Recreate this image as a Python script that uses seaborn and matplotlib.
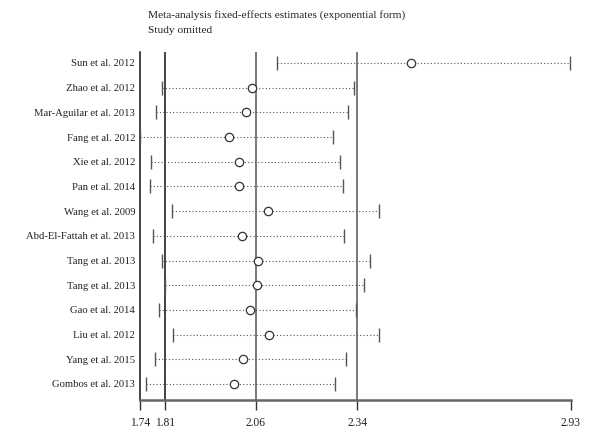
import pandas as pd
import matplotlib.pyplot as plt
import seaborn as sns

# studies omitted, estimate and CI
studies = ["Sun et al. 2012", "Zhao et al. 2012", "Mar-Aguilar et al. 2013", "Fang et al. 2012",
           "Xie et al. 2012", "Pan et al. 2014", "Wang et al. 2009", "Abd-El-Fattah et al. 2013",
           "Tang et al. 2013", "Tang et al. 2013", "Gao et al. 2014", "Liu et al. 2012",
           "Yang et al. 2015", "Gombos et al. 2013"]
estimate = [2.489, 2.049, 2.032, 1.987, 2.013, 2.014, 2.094, 2.022, 2.067, 2.063, 2.045, 2.096, 2.026, 2.000]
lower = [2.118, 1.800, 1.783, 1.740, 1.770, 1.768, 1.828, 1.775, 1.802, 1.808, 1.792, 1.832, 1.781, 1.757]
upper = [2.928, 2.331, 2.315, 2.272, 2.294, 2.300, 2.401, 2.303, 2.375, 2.359, 2.337, 2.401, 2.309, 2.280]

# overall estimate lines and axis ticks
overall = [1.81, 2.06, 2.34]
xticks = [1.74, 1.81, 2.06, 2.34, 2.93]

df = pd.DataFrame({"study": studies, "est": estimate, "lo": lower, "hi": upper})
df["row"] = range(len(df))

sns.set_theme(style="white")
plt.rcParams["font.family"] = ["Liberation Serif", "DejaVu Serif"]

fig = plt.figure(figsize=(6, 4.43), dpi=100)
ax = fig.add_axes([0.2333, 0.097, 0.7178, 0.786])

# dotted CI lines
ax.hlines(df["row"], df["lo"], df["hi"], colors="#555555", linestyles=(0, (1, 2)), linewidth=0.8, zorder=2)
# caps
sns.scatterplot(data=pd.concat([df[["lo", "row"]].rename(columns={"lo": "x"}),
                                df[["hi", "row"]].rename(columns={"hi": "x"})]),
                x="x", y="row", marker="|", s=100, color="#555555", linewidth=1.0, ax=ax, zorder=3)
# point estimates
sns.scatterplot(data=df, x="est", y="row", marker="o", s=36, facecolor="white",
                edgecolor="#333333", linewidth=0.9, ax=ax, zorder=4)

ax.axvline(overall[0], color="#111111", linewidth=1.1, zorder=1)
for v in overall[1:]:
    ax.axvline(v, color="#555555", linewidth=1.1, zorder=1)

ax.set_xlim(1.74, 2.93)
ax.set_ylim(len(df) - 1 + 0.65, -0.45)
ax.set_xticks(xticks)
ax.set_xticklabels([f"{t:.2f}" for t in xticks], fontsize=8.3)
ax.set_yticks(df["row"])
ax.set_yticklabels(df["study"], fontsize=7.7)
ax.set_xlabel("")
ax.set_ylabel("")

for s in ["top", "right"]:
    ax.spines[s].set_visible(False)
ax.spines["left"].set_color("#111111")
ax.spines["left"].set_linewidth(1.1)
ax.spines["bottom"].set_color("#666666")
ax.spines["bottom"].set_linewidth(1.8)
ax.tick_params(axis="x", which="both", bottom=True, length=7, width=1.0, color="#333333",
               direction="out", pad=5, labelcolor="#222222")
ax.tick_params(axis="y", left=False, length=0, pad=3.5, labelcolor="#222222")

fig.text(0.247, 0.966, "Meta-analysis fixed-effects estimates (exponential form)",
         fontsize=8.2, va="center", color="#222222")
fig.text(0.247, 0.932, "Study omitted", fontsize=8.2, va="center", color="#222222")

fig.savefig("out.png", dpi=100)
